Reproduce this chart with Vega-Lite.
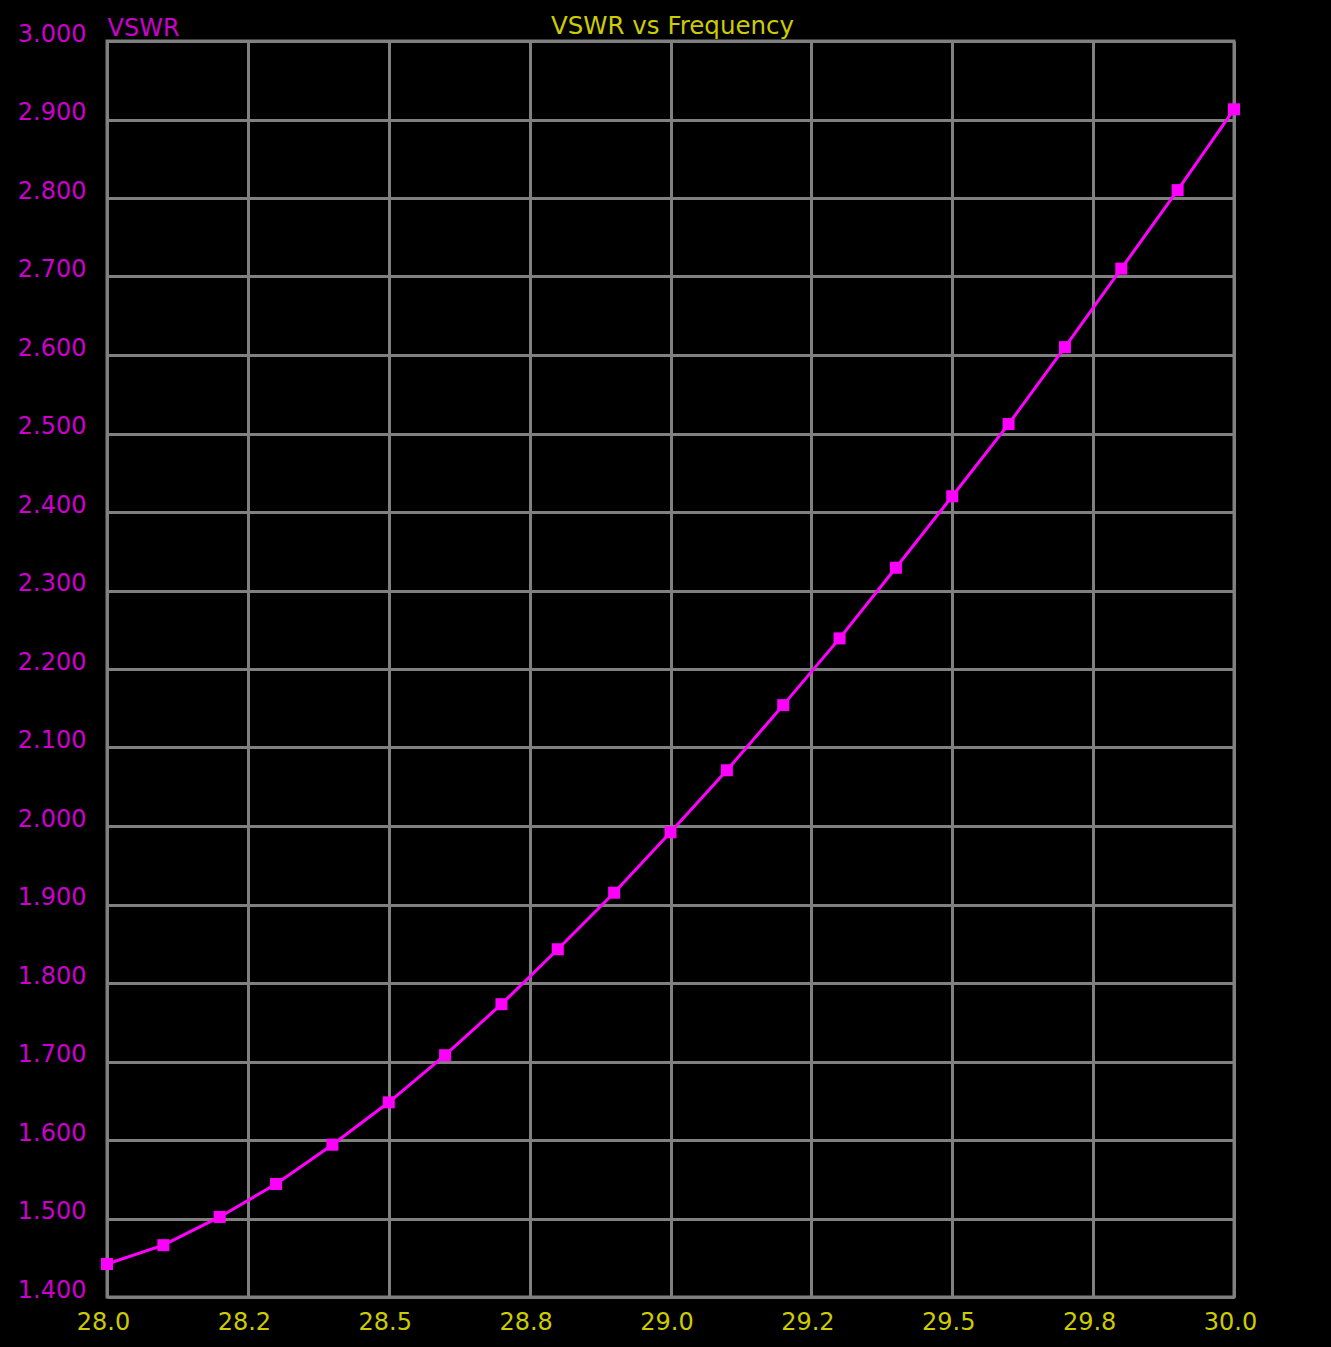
{
  "$schema": "https://vega.github.io/schema/vega-lite/v6.json",
  "width": 1127,
  "height": 1256,
  "autosize": {"type": "none"},
  "padding": {"left": 107, "top": 41, "right": 97, "bottom": 50},
  "background": "#000000",
  "title": {
    "text": "VSWR vs Frequency",
    "color": "#CCCC00",
    "font": "DejaVu Sans",
    "fontSize": 24.5,
    "fontWeight": "normal",
    "baseline": "alphabetic",
    "offset": 6,
    "dy": 48,
    "dx": 2,
    "anchor": "middle"
  },
  "config": {"view": {"stroke": "#808080", "strokeWidth": 3, "fill": "#000000"}},
  "data": {
    "values": [
      {"freq": 28.0, "vswr": 1.442},
      {"freq": 28.1, "vswr": 1.466},
      {"freq": 28.2, "vswr": 1.502},
      {"freq": 28.3, "vswr": 1.544},
      {"freq": 28.4, "vswr": 1.594},
      {"freq": 28.5, "vswr": 1.648},
      {"freq": 28.6, "vswr": 1.708},
      {"freq": 28.7, "vswr": 1.773},
      {"freq": 28.8, "vswr": 1.843},
      {"freq": 28.9, "vswr": 1.915},
      {"freq": 29.0, "vswr": 1.992},
      {"freq": 29.1, "vswr": 2.071},
      {"freq": 29.2, "vswr": 2.154},
      {"freq": 29.3, "vswr": 2.239},
      {"freq": 29.4, "vswr": 2.329},
      {"freq": 29.5, "vswr": 2.420},
      {"freq": 29.6, "vswr": 2.512},
      {"freq": 29.7, "vswr": 2.610},
      {"freq": 29.8, "vswr": 2.710},
      {"freq": 29.9, "vswr": 2.810},
      {"freq": 30.0, "vswr": 2.913}
    ]
  },
  "encoding": {
    "x": {
      "field": "freq",
      "type": "quantitative",
      "scale": {"domain": [28, 30], "nice": false, "zero": false},
      "axis": {
        "title": null,
        "values": [28, 28.25, 28.5, 28.75, 29, 29.25, 29.5, 29.75, 30],
        "labelExpr": "datum.value == 28.25 ? '28.2' : datum.value == 29.25 ? '29.2' : format(datum.value, '.1f')",
        "grid": true,
        "gridColor": "#808080",
        "gridWidth": 3,
        "gridOpacity": 1,
        "domain": false,
        "ticks": false,
        "labelColor": "#CCCC00",
        "labelFont": "DejaVu Sans",
        "labelFontSize": 24,
        "labelPadding": 32,
        "labelBaseline": "alphabetic",
        "labelFlush": false,
        "labelOverlap": false,
        "labelBound": false,
        "labelOffset": -4
      }
    },
    "y": {
      "field": "vswr",
      "type": "quantitative",
      "scale": {"domain": [1.4, 3.0], "nice": false, "zero": false},
      "axis": {
        "title": "VSWR",
        "titleAngle": 0,
        "titleX": 0,
        "titleY": -6,
        "titleAlign": "left",
        "titleBaseline": "alphabetic",
        "titleColor": "#CC00CC",
        "titleFont": "DejaVu Sans",
        "titleFontSize": 24,
        "titleFontWeight": "normal",
        "values": [1.4, 1.5, 1.6, 1.7, 1.8, 1.9, 2.0, 2.1, 2.2, 2.3, 2.4, 2.5, 2.6, 2.7, 2.8, 2.9, 3.0],
        "format": ".3f",
        "grid": true,
        "gridColor": "#808080",
        "gridWidth": 3,
        "gridOpacity": 1,
        "domain": false,
        "ticks": false,
        "labelColor": "#CC00CC",
        "labelFont": "DejaVu Sans",
        "labelFontSize": 24,
        "labelPadding": 21,
        "labelBaseline": "alphabetic",
        "labelFlush": false,
        "labelOverlap": false,
        "labelBound": false
      }
    }
  },
  "layer": [
    {"mark": {"type": "line", "color": "#FF00FF", "strokeWidth": 3}},
    {"mark": {"type": "point", "shape": "square", "filled": true, "size": 144, "color": "#FF00FF", "opacity": 1}}
  ]
}
